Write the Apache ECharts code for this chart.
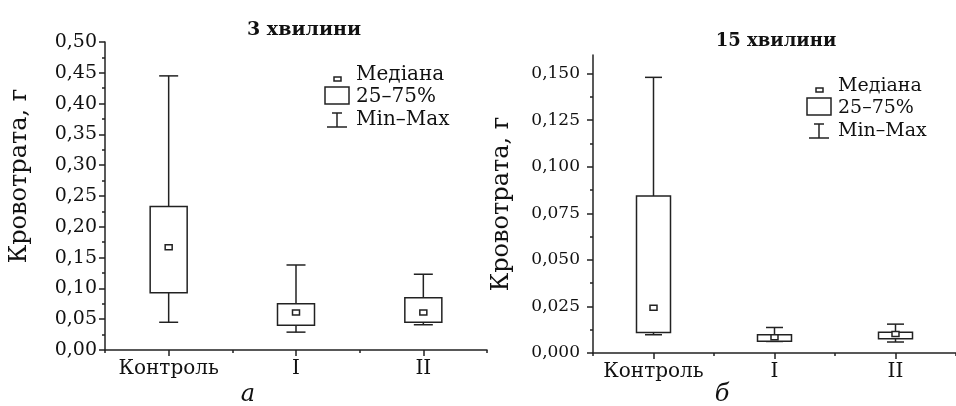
<!DOCTYPE html>
<html>
<head>
<meta charset="utf-8">
<script src="https://cdn.jsdelivr.net/npm/echarts@6/dist/echarts.min.js"></script>
<style>
  html, body { margin: 0; padding: 0; background: #fff; }
  #chart { width: 956px; height: 406px; }
</style>
</head>
<body>
<div id="chart"></div>
<script>
// categories
const categories = ["Контроль", "I", "II"];

// [category index, min, q1, median, q3, max]
const box3min = [
  [0, 0.045, 0.093, 0.167, 0.233, 0.445],
  [1, 0.029, 0.040, 0.061, 0.075, 0.138],
  [2, 0.041, 0.045, 0.061, 0.085, 0.123],
];
const box15min = [
  [0, 0.0098, 0.011, 0.0243, 0.0843, 0.148],
  [1, 0.0062, 0.0063, 0.0084, 0.0098, 0.0137],
  [2, 0.0059, 0.0077, 0.0102, 0.0112, 0.0155],
];

const ticks15 = [0, 0.025, 0.05, 0.075, 0.1, 0.125, 0.15];
const minorTicks15 = [0.0125, 0.0375, 0.0625, 0.0875, 0.1125, 0.1375];

const serif = "DejaVu Serif";
const ink = "#111";
const lineInk = "#222";

function boxRenderer(boxW, capW) {
  return function (params, api) {
    const c = api.value(0);
    const pMin = api.coord([c, api.value(1)]);
    const pQ1 = api.coord([c, api.value(2)]);
    const pMed = api.coord([c, api.value(3)]);
    const pQ3 = api.coord([c, api.value(4)]);
    const pMax = api.coord([c, api.value(5)]);
    const x = pMin[0];
    const st = { stroke: lineInk, lineWidth: 1.5, fill: null };
    return {
      type: "group",
      children: [
        { type: "line", shape: { x1: x, y1: pMax[1], x2: x, y2: pQ3[1] }, style: st },
        { type: "line", shape: { x1: x, y1: pQ1[1], x2: x, y2: pMin[1] }, style: st },
        { type: "line", shape: { x1: x - capW / 2, y1: pMax[1], x2: x + capW / 2, y2: pMax[1] }, style: st },
        { type: "line", shape: { x1: x - capW / 2, y1: pMin[1], x2: x + capW / 2, y2: pMin[1] }, style: st },
        {
          type: "rect",
          shape: { x: x - boxW / 2, y: pQ3[1], width: boxW, height: pQ1[1] - pQ3[1] },
          style: { stroke: lineInk, lineWidth: 1.5, fill: "#fff" },
        },
        {
          type: "rect",
          shape: { x: x - 3.5, y: pMed[1] - 2.5, width: 7, height: 5 },
          style: { stroke: lineInk, lineWidth: 1.5, fill: "#fff" },
        },
      ],
    };
  };
}

function legend(x, y, fs) {
  // x: left of box icon, y: middle of first row
  const st = { stroke: lineInk, lineWidth: 1.5, fill: "#fff" };
  const tx = x + 31;
  const font = fs + "px '" + serif + "'";
  return [
    { type: "rect", shape: { x: x + 9, y: y + 2, width: 7, height: 4 }, style: st },
    { type: "rect", shape: { x: x, y: y + 12, width: 24, height: 17 }, style: st },
    { type: "line", shape: { x1: x + 12, y1: y + 38, x2: x + 12, y2: y + 52 }, style: st },
    { type: "line", shape: { x1: x + 7, y1: y + 38, x2: x + 17, y2: y + 38 }, style: st },
    { type: "line", shape: { x1: x + 2, y1: y + 52, x2: x + 22, y2: y + 52 }, style: st },
    { type: "text", x: tx, y: y, style: { text: "Медіана", font: font, fill: ink, verticalAlign: "middle" } },
    { type: "text", x: tx, y: y + 22, style: { text: "25–75%", font: font, fill: ink, verticalAlign: "middle" } },
    { type: "text", x: tx, y: y + 45, style: { text: "Min–Max", font: font, fill: ink, verticalAlign: "middle" } },
  ];
}

const axisLine = { show: true, lineStyle: { color: lineInk, width: 1.5 } };
const majorTick = { show: true, length: 6, lineStyle: { color: lineInk, width: 1.5 } };
const minorTick = { show: true, length: 3, lineStyle: { color: lineInk, width: 1.5 } };

const chart = echarts.init(document.getElementById("chart"));
chart.setOption({
  animation: false,
  textStyle: { fontFamily: serif },
  title: [
    { text: "3 хвилини", left: 299, top: 16, textAlign: "center",
      textStyle: { fontFamily: serif, fontWeight: "bold", fontSize: 19, color: ink } },
    { text: "15 хвилини", left: 771, top: 27, textAlign: "center",
      textStyle: { fontFamily: serif, fontWeight: "bold", fontSize: 18, color: ink } },
  ],
  grid: [
    { left: 105, right: 469, top: 42, bottom: 56 },
    { left: 593, right: -9, top: 55, bottom: 53 },
  ],
  xAxis: [
    {
      type: "category", gridIndex: 0, data: categories, axisLine: axisLine,
      axisTick: Object.assign({ alignWithLabel: true, interval: 0 }, majorTick),
      axisLabel: { color: ink, fontSize: 20, margin: 9, fontFamily: serif, interval: 0 },
    },
    {
      type: "category", gridIndex: 0, data: categories, position: "bottom",
      axisLine: { show: false }, axisLabel: { show: false, interval: 0 },
      axisTick: Object.assign({ interval: 0 }, minorTick),
    },
    {
      type: "category", gridIndex: 1, data: categories, axisLine: axisLine,
      axisTick: Object.assign({ alignWithLabel: true, interval: 0 }, majorTick),
      axisLabel: { color: ink, fontSize: 20, margin: 9, fontFamily: serif, interval: 0 },
    },
    {
      type: "category", gridIndex: 1, data: categories, position: "bottom",
      axisLine: { show: false }, axisLabel: { show: false, interval: 0 },
      axisTick: Object.assign({ interval: 0 }, minorTick),
    },
  ],
  yAxis: [
    {
      type: "value", gridIndex: 0, min: 0, max: 0.5, interval: 0.05,
      name: "Кровотрата, г", nameLocation: "middle", nameGap: 73,
      nameTextStyle: { fontSize: 24, color: ink, fontFamily: serif, padding: [0, 0, 0, 40] },
      axisLine: axisLine, splitLine: { show: false },
      axisTick: majorTick,
      minorTick: Object.assign({ splitNumber: 2 }, minorTick),
      axisLabel: { color: ink, fontSize: 19, margin: 8, fontFamily: serif,
        formatter: (v) => v.toFixed(2).replace(".", ",") },
    },
    {
      type: "value", gridIndex: 1, min: 0, max: 0.16,
      name: "Кровотрата, г", nameLocation: "middle", nameGap: 79,
      nameTextStyle: { fontSize: 24, color: ink, fontFamily: serif },
      axisLine: axisLine, splitLine: { show: false },
      axisTick: Object.assign({ customValues: ticks15 }, majorTick),
      axisLabel: { color: ink, fontSize: 17, margin: 13, fontFamily: serif, customValues: ticks15,
        formatter: (v) => v.toFixed(3).replace(".", ",") },
    },
    {
      type: "value", gridIndex: 1, min: 0, max: 0.16, position: "left", offset: 0,
      axisLine: { show: false }, splitLine: { show: false }, axisLabel: { show: false },
      axisTick: Object.assign({ customValues: minorTicks15 }, minorTick),
    },
  ],
  series: [
    {
      type: "custom", xAxisIndex: 0, yAxisIndex: 0,
      renderItem: boxRenderer(37, 19), data: box3min,
      encode: { x: 0, y: [1, 2, 3, 4, 5] },
    },
    {
      type: "custom", xAxisIndex: 2, yAxisIndex: 1,
      renderItem: boxRenderer(34, 17), data: box15min,
      encode: { x: 0, y: [1, 2, 3, 4, 5] },
    },
  ],
  graphic: [
    ...legend(325, 75, 20),
    ...legend(807, 86, 19),
    { type: "text", x: 248, y: 395, style: { text: "а", font: "italic 24px '" + serif + "'", fill: ink, align: "center", verticalAlign: "middle" } },
    { type: "text", x: 722, y: 395, style: { text: "б", font: "italic 24px '" + serif + "'", fill: ink, align: "center", verticalAlign: "middle" } },
  ],
});
</script>
</body>
</html>
